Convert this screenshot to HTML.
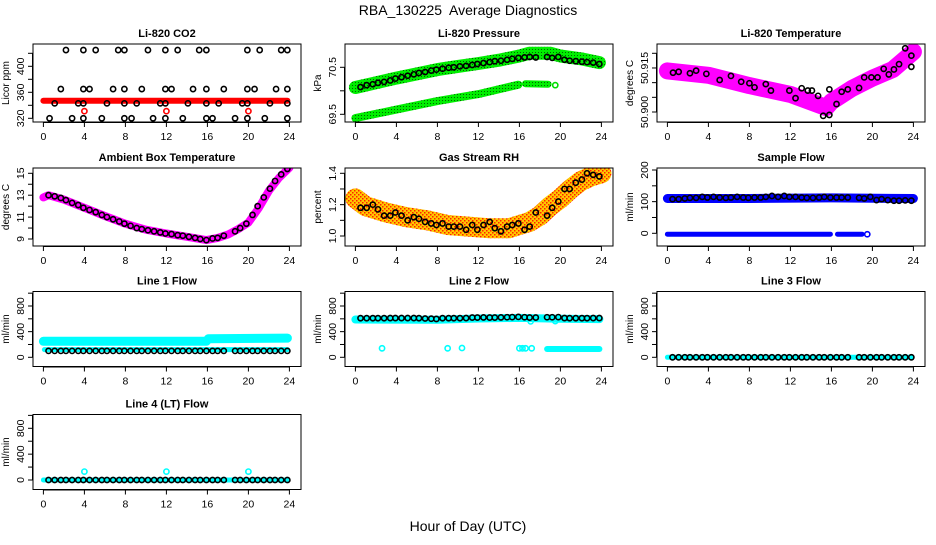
<!DOCTYPE html>
<html><head><meta charset="utf-8"><style>
body{margin:0;background:#fff;}
svg text{font-family:"Liberation Sans",sans-serif;}
</style></head><body>
<svg id="chart" width="936" height="540" xmlns="http://www.w3.org/2000/svg">
<defs>
<pattern id="rhpat" width="4" height="4" patternUnits="userSpaceOnUse">
<rect width="4" height="4" fill="#ffc800"/><rect x="0" y="0" width="1.5" height="1.5" fill="#ff2000"/><rect x="2" y="2" width="1.5" height="1.5" fill="#ff2000"/>
</pattern>
<pattern id="gpat" width="3" height="3" patternUnits="userSpaceOnUse">
<rect width="3" height="3" fill="#00ee00"/><rect x="1" y="1" width="1" height="1" fill="#006600"/>
</pattern>
</defs>
<text x="468" y="15" text-anchor="middle" font-size="14" style="white-space:pre">RBA_130225  Average Diagnostics</text>
<text x="468" y="531" text-anchor="middle" font-size="14">Hour of Day (UTC)</text>
</svg>
<script>
// ---------- data ----------
const hours = [0.5,1.1,1.7,2.2,2.8,3.4,3.9,4.5,5.1,5.7,6.2,6.8,7.4,7.9,8.5,9.1,9.6,10.2,10.8,11.4,11.9,12.5,13.1,13.6,14.2,14.8,15.3,15.9,16.5,17.0,17.6,18.7,19.2,19.8,20.4,20.9,21.5,22.1,22.6,23.2,23.8];
const xTicks = [0,4,8,12,16,20,24];

// CO2
const co2Hours = [2.2,3.9,5.1,7.3,7.9,10.2,11.9,13.1,15.2,15.9,19.9,21.1,23.2,23.8,
 1.7,3.9,4.5,6.8,7.9,9.6,11.9,12.5,14.6,15.9,17.6,19.9,20.6,22.7,23.8,
 1.1,3.4,3.9,6.2,7.9,9.1,11.4,11.9,14.1,15.9,17.1,19.4,19.9,22.1,23.8,
 0.6,2.8,3.9,5.7,7.9,8.6,10.7,11.9,13.6,15.9,16.5,18.7,19.9,21.6,23.8];
const co2Vals = [425,425,425,425,425,425,425,425,425,425,425,425,425,425,
 365,365,365,365,365,365,365,365,365,365,365,365,365,365,365,
 343,343,343,343,343,343,343,343,343,343,343,343,343,343,343,
 320,320,320,320,320,320,320,320,320,320,320,320,320,320,320];
const co2BandX = [0,6,12,18,23.8];
const co2BandY = [347,347,347,347,347];
const co2OutH = [4,12,20];
const co2OutV = [331,331,331];

// Pressure
const presVals = [70.08,70.12,70.14,70.17,70.19,70.22,70.26,70.29,70.32,70.35,70.38,70.40,70.43,70.45,70.47,70.49,70.50,70.52,70.53,70.55,70.57,70.59,70.61,70.63,70.64,70.66,70.68,70.70,70.71,70.72,70.71,70.72,70.70,70.72,70.66,70.64,70.63,70.62,70.61,70.60,70.57];
const presUpX = [0,2,4,6,8,10,12,14,16,17,19,20,22,23.8];
const presUpY = [70.07,70.17,70.27,70.36,70.45,70.52,70.58,70.65,70.74,70.80,70.80,70.74,70.68,70.60];
const presLoX = [0,4,8,12,15.9];
const presLoY = [69.42,69.6,69.78,69.93,70.13];
const presLo2X = [16.6,18.8];
const presLo2Y = [70.15,70.14];

// Li-820 temperature
const tempH = [0.55,1.1,2.2,2.8,3.8,5.1,6.2,7.2,8.0,8.5,9.6,10.1,11.9,12.5,13.1,13.7,14.1,14.7,15.2,15.8,15.8,16.5,17.0,17.6,18.7,19.2,19.9,20.5,21.1,21.6,22.1,22.6,23.2,23.8,23.8];
const tempV = [50.9134,50.9137,50.9132,50.9141,50.9130,50.9109,50.9123,50.9103,50.9098,50.9084,50.9095,50.9073,50.9073,50.9047,50.9081,50.9073,50.9073,50.9055,50.8987,50.8990,50.9077,50.9027,50.9069,50.9077,50.9082,50.9118,50.9118,50.9118,50.9147,50.9128,50.9145,50.9163,50.9217,50.9192,50.9154];
const tempBandX = [0,4,8,12,15.5,16,18,20,22,24];
const tempBandY = [50.914,50.9125,50.909,50.906,50.9015,50.9035,50.908,50.9115,50.9145,50.9205];

// Ambient box temperature
const ambVals = [13.0,12.9,12.75,12.55,12.3,12.1,11.85,11.65,11.45,11.2,11.0,10.8,10.6,10.4,10.2,10.0,9.9,9.8,9.7,9.6,9.5,9.45,9.35,9.3,9.2,9.1,9.0,8.9,9.05,9.1,9.3,9.7,10.0,10.4,11.2,12.0,12.8,13.6,14.3,14.9,15.4];
const ambBandX = [0,0.5,2,4,6,8,10,12,14,15.9,17,18,19,20,21,22,23,24];
const ambBandY = [12.8,13.0,12.6,11.85,11.1,10.4,9.85,9.5,9.2,8.9,9.1,9.4,9.9,10.5,11.8,13.4,14.6,15.5];

// Gas stream RH
const rhVals = [1.18,1.18,1.20,1.17,1.13,1.13,1.15,1.13,1.10,1.12,1.11,1.09,1.08,1.07,1.08,1.06,1.06,1.06,1.04,1.07,1.04,1.07,1.09,1.05,1.03,1.06,1.07,1.08,1.04,1.06,1.15,1.13,1.18,1.22,1.30,1.30,1.34,1.36,1.40,1.39,1.38];
const rhBandX = [0,1,3,5,7,9,11,13,15,16,17,18,19,20,21,22,23,24];
const rhBandY = [1.24,1.19,1.15,1.12,1.10,1.07,1.06,1.05,1.05,1.07,1.09,1.13,1.19,1.24,1.30,1.35,1.38,1.40];

// Sample flow
const sfVals = [108,108,110,112,112,115,113,115,113,112,113,115,113,112,113,113,115,118,115,118,115,115,113,112,112,113,115,113,113,113,113,112,110,115,105,108,105,103,103,104,103];
const sfUpX = [0,8,16,24];
const sfUpY = [110,110,112,110];
const sfLoX = [0,15.9];
const sfLoY = [-3,-3];
const sfLo2X = [16.6,19.0];
const sfLo2Y = [-3,-3];

// Line 1 flow
const l1Vals = hours.map(()=>100);
const l1UpX = [0,15.9,16.1,23.8];
const l1UpY = [250,250,290,300];
const l1LoX = [0.1,23.8];
const l1LoY = [120,120];

// Line 2 flow
const l2Vals = [610,610,610,610,610,612,612,612,612,612,610,605,602,598,610,610,610,610,612,620,620,622,620,620,622,625,627,630,625,620,620,625,625,627,612,610,610,610,610,612,612];
const l2BandX = [0,8,12,16,20,23.8];
const l2BandY = [590,585,605,615,600,595];
const l2LowX = [18.7,23.8];
const l2LowY = [130,130];
const l2PtsH = [2.6,9.0,10.4,16.0,16.3,16.6,17.2,17.1,19.5];
const l2PtsV = [140,140,145,140,140,140,140,560,565];

// Line 3 flow
const l3Vals = hours.map(()=>0);
const l3BandX = [0,23.8];
const l3BandY = [0,0];

// Line 4 flow
const l4Vals = hours.map(()=>0);
const l4BandX = [0,23.8];
const l4BandY = [0,0];
const l4OutH = [4,12,20];
const l4OutV = [130,130,130];

// ---------- drawing ----------
const NS = 'http://www.w3.org/2000/svg';
const svg = document.getElementById('chart');
const colLeft = [33,345,657];
const rowTop = [44,168,291.5,414.5];
const rowH = [78,78,75,75];
const W = 268;

function mk(tag, attrs, parent){
  const e = document.createElementNS(NS, tag);
  for (const k in attrs) e.setAttribute(k, attrs[k]);
  (parent||svg).appendChild(e);
  return e;
}

function makePanel(c, r, name, title, ylab, v1, o1, v2, o2, yTicks, yLabels){
  const g = mk('g', {});
  
  
  const L = colLeft[c], T = rowTop[r], H = rowH[r];
  const P = {L, T, H, g};
  P.x = h => L + 10.4 + h * 10.25;
  P.y = v => T + o1 + (v - v1) * (o2 - o1) / (v2 - v1);
  const plot = mk('g', {}, g);
  
  
  P.plot = plot;
  const cp = mk('clipPath', {id: 'cp' + name}, g);
  mk('rect', {x: L, y: T, width: W, height: H}, cp);
  plot.setAttribute('clip-path', 'url(#cp' + name + ')');
  const box = mk('rect', {x: L, y: T, width: W, height: H, fill: 'none', stroke: '#000', 'stroke-width': 1}, g);
  
  
  const t = mk('text', {x: L + W/2, y: T - 7, 'text-anchor': 'middle', 'font-size': 11, 'font-weight': 'bold'}, g);
  t.textContent = title;
  
  
  const yl = mk('text', {x: 0, y: 0, 'text-anchor': 'middle', 'font-size': 10, transform: 'translate(' + (L - 24) + ',' + (T + H/2) + ') rotate(-90)'}, g);
  yl.textContent = ylab;
  
  
  const xa = mk('g', {}, g);
  
  
  mk('line', {x1: P.x(0), x2: P.x(24), y1: T + H + 0.5, y2: T + H + 0.5, stroke: '#000'}, xa);
  xTicks.forEach(v => {
    mk('line', {x1: P.x(v), x2: P.x(v), y1: T + H, y2: T + H + 5, stroke: '#000'}, xa);
    const tl = mk('text', {x: P.x(v), y: T + H + 18, 'text-anchor': 'middle', 'font-size': 10.5}, xa);
    tl.textContent = String(v);
    
    
  });
  const ya = mk('g', {}, g);
  
  
  mk('line', {x1: L - 0.5, x2: L - 0.5, y1: P.y(yTicks[0]), y2: P.y(yTicks[yTicks.length-1]), stroke: '#000'}, ya);
  yTicks.forEach((v, i) => {
    const py = P.y(v);
    mk('line', {x1: L - 5, x2: L, y1: py, y2: py, stroke: '#000'}, ya);
    if (yLabels[i]) {
      const tl = mk('text', {x: 0, y: 0, 'text-anchor': 'middle', 'font-size': 10.5, transform: 'translate(' + (L - 9) + ',' + py + ') rotate(-90)'}, ya);
      tl.textContent = yLabels[i];
      
      
    }
  });
  return P;
}

function band(P, xs, ys, color, width, nm){
  const d = xs.map((h, i) => (i ? 'L' : 'M') + P.x(h).toFixed(1) + ' ' + P.y(ys[i]).toFixed(1)).join(' ');
  const p = mk('path', {d: d, fill: 'none', stroke: color, 'stroke-width': width, 'stroke-linecap': 'round', 'stroke-linejoin': 'round'}, P.plot);
  
  
}

function pts(P, xs, ys, color, nm, rad){
  xs.forEach((h, i) => {
    const c = mk('circle', {cx: P.x(h), cy: P.y(ys[i]), r: rad || 2.6, fill: 'none', stroke: color, 'stroke-width': 1.6}, P.plot);
    
    
  });
}

let P = makePanel(0, 0, 'co2-panel', 'Li-820 CO2', 'Licor ppm', 320, 74.3, 420, 9.3,
  [320,340,360,380,400,420], ['320','','360','','400','']);
band(P, co2BandX, co2BandY, '#ff0000', 6, 'co2-band');
pts(P, co2OutH, co2OutV, '#ff0000', 'co2-outlier-point');
pts(P, co2Hours, co2Vals, '#000', 'co2-hourly-point');

P = makePanel(1, 0, 'pressure-panel', 'Li-820 Pressure', 'kPa', 69.5, 70.3, 70.5, 23.3,
  [69.5,70.0,70.5], ['69.5','','70.5']);
band(P, presUpX, presUpY, 'url(#gpat)', 13, 'pressure-band-upper');
band(P, presLoX, presLoY, 'url(#gpat)', 8, 'pressure-band-lower');
band(P, presLo2X, presLo2Y, 'url(#gpat)', 7, 'pressure-band-lower-2');
pts(P, [19.5], [70.12], '#00dd00', 'pressure-outlier-point');
pts(P, hours, presVals, '#000', 'pressure-hourly-point');

P = makePanel(2, 0, 'li820-temp-panel', 'Li-820 Temperature', 'degrees C', 50.900, 68, 50.920, 9.3,
  [50.900,50.905,50.910,50.915,50.920], ['50.900','','','50.915','']);
band(P, tempBandX, tempBandY, '#ff00ff', 17, 'li820-temp-band');
pts(P, tempH, tempV, '#000', 'li820-temp-point');

P = makePanel(0, 1, 'ambient-temp-panel', 'Ambient Box Temperature', 'degrees C', 9, 71, 15, 5.3,
  [9,10,11,12,13,14,15], ['9','','11','','13','','15']);
band(P, ambBandX, ambBandY, '#ff00ff', 8, 'ambient-temp-band');
pts(P, hours, ambVals, '#000', 'ambient-temp-point');

P = makePanel(1, 1, 'rh-panel', 'Gas Stream RH', 'percent', 1.0, 68, 1.4, 5.3,
  [1.0,1.1,1.2,1.3,1.4], ['1.0','','1.2','','1.4']);
band(P, rhBandX, rhBandY, 'url(#rhpat)', 20, 'rh-band');
pts(P, hours, rhVals, '#000', 'rh-point');

P = makePanel(2, 1, 'sample-flow-panel', 'Sample Flow', 'ml/min', 0, 65.3, 200, 2,
  [0,50,100,150,200], ['0','','100','','200']);
band(P, sfUpX, sfUpY, '#0000ff', 9, 'sample-flow-band');
band(P, sfLoX, sfLoY, '#0000ff', 5, 'sample-flow-zero-band');
band(P, sfLo2X, sfLo2Y, '#0000ff', 5, 'sample-flow-zero-band-2');
pts(P, [19.5], [-3], '#0000ff', 'sample-flow-outlier');
pts(P, hours, sfVals, '#000', 'sample-flow-point');

const flowTicks = [0,200,400,600,800,1000];
const flowLabels = ['0','','400','','800',''];
P = makePanel(0, 2, 'line1-flow-panel', 'Line 1 Flow', 'ml/min', 0, 65.8, 800, 14.5, flowTicks, flowLabels);
band(P, l1UpX, l1UpY, '#00ffff', 9, 'line1-flow-band-upper');
band(P, l1LoX, l1LoY, '#00ffff', 5, 'line1-flow-band-lower');
pts(P, hours, l1Vals, '#000', 'line1-flow-point');

P = makePanel(1, 2, 'line2-flow-panel', 'Line 2 Flow', 'ml/min', 0, 65.8, 800, 14.5, flowTicks, flowLabels);
band(P, l2BandX, l2BandY, '#00ffff', 8, 'line2-flow-band');
band(P, l2LowX, l2LowY, '#00ffff', 6, 'line2-flow-low-band');
pts(P, l2PtsH, l2PtsV, '#00ffff', 'line2-flow-outlier');
pts(P, hours, l2Vals, '#000', 'line2-flow-point');

P = makePanel(2, 2, 'line3-flow-panel', 'Line 3 Flow', 'ml/min', 0, 65.8, 800, 14.5, flowTicks, flowLabels);
band(P, l3BandX, l3BandY, '#00ffff', 5, 'line3-flow-band');
pts(P, hours, l3Vals, '#000', 'line3-flow-point');

P = makePanel(0, 3, 'line4-flow-panel', 'Line 4 (LT) Flow', 'ml/min', 0, 65.5, 800, 13.8, flowTicks, flowLabels);
band(P, l4BandX, l4BandY, '#00ffff', 5, 'line4-flow-band');
pts(P, l4OutH, l4OutV, '#00ffff', 'line4-flow-outlier');
pts(P, hours, l4Vals, '#000', 'line4-flow-point');
</script>
</body></html>
